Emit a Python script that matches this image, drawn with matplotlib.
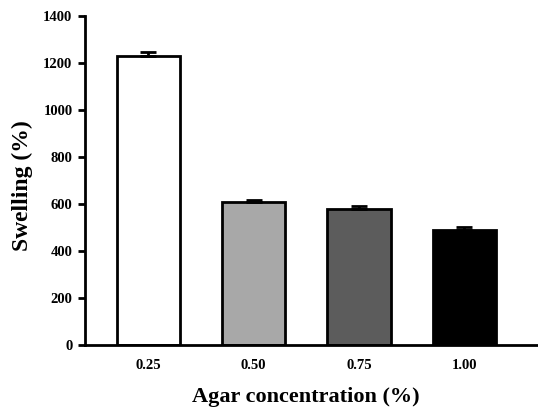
import matplotlib
matplotlib.use("Agg")
import matplotlib.pyplot as plt
import numpy as np

categories = ["0.25", "0.50", "0.75", "1.00"]
values = [1230, 610, 580, 490]
errors = [18, 5, 10, 12]
colors = ["#ffffff", "#a8a8a8", "#5c5c5c", "#000000"]
yticks = [0, 200, 400, 600, 800, 1000, 1200, 1400]

plt.rcParams['font.family'] = ['Liberation Serif', 'DejaVu Serif']
plt.rcParams['font.weight'] = 'bold'

fig = plt.figure(figsize=(5.38, 4.07), dpi=100)
ax = fig.add_axes([0.158, 0.152, 0.842, 0.809])
x = np.arange(len(categories))
ax.bar(x, values, width=0.6, color=colors, edgecolor='black', linewidth=2,
       yerr=[np.zeros(len(errors)), errors], error_kw=dict(ecolor='black', elinewidth=2, capsize=6, capthick=2))
ax.set_xlim(-0.6, 3.7)
ax.set_ylim(0, 1400)
ax.set_yticks(yticks)
ax.set_xticks(x)
ax.set_xticklabels(categories)
ax.tick_params(axis='x', length=0, pad=10, labelsize=10.5)
ax.tick_params(axis='y', length=5, width=2, direction='out', labelsize=10.5, pad=4)
for s in ['top', 'right']:
    ax.spines[s].set_visible(False)
for s in ['left', 'bottom']:
    ax.spines[s].set_linewidth(2)
ax.set_xlabel("Agar concentration (%)", fontsize=16, fontweight='bold')
ax.set_ylabel("Swelling (%)", fontsize=17, fontweight='bold')
ax.xaxis.set_label_coords(0.487, -0.128)
ax.yaxis.set_label_coords(-0.115, 0.485)
fig.savefig("out.png", dpi=100)
